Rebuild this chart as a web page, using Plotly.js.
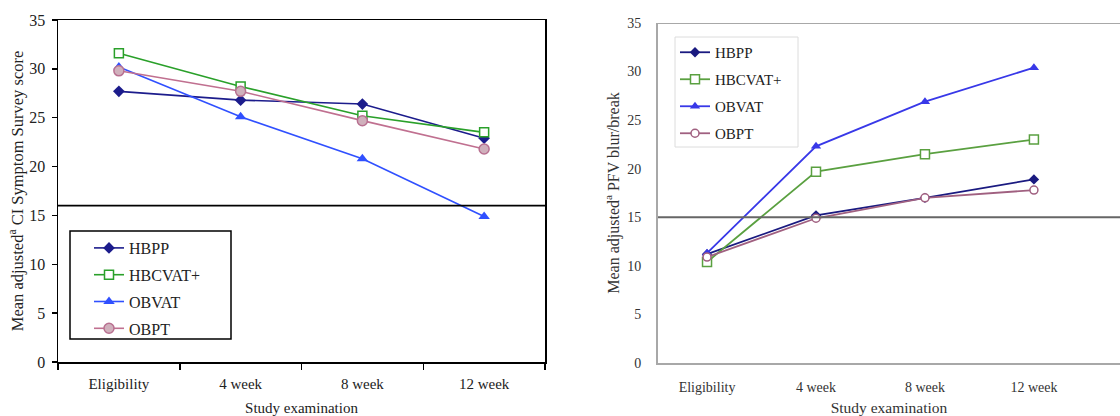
<!DOCTYPE html>
<html>
<head>
<meta charset="utf-8">
<script src="https://cdn.plot.ly/plotly-3.0.1.min.js"></script>
<style>html,body{margin:0;padding:0;background:#fff;}#chart{width:1120px;height:416px;}</style>
</head>
<body>
<div id="chart"></div>
<script>
// ---- data ----
const categories = ["Eligibility", "4 week", "8 week", "12 week"];
const seriesNames = ["HBPP", "HBCVAT+", "OBVAT", "OBPT"];
// Left panel: CI Symptom Survey score
const ciss_HBPP    = [27.7, 26.8, 26.4, 22.9];
const ciss_HBCVAT  = [31.6, 28.2, 25.2, 23.5];
const ciss_OBVAT   = [30.2, 25.1, 20.8, 14.9];
const ciss_OBPT    = [29.8, 27.7, 24.7, 21.8];
const cissCutoff   = 16;
// Right panel: PFV blur/break
const pfv_HBPP     = [11.2, 15.2, 17.0, 18.9];
const pfv_HBCVAT   = [10.4, 19.7, 21.5, 23.0];
const pfv_OBVAT    = [11.3, 22.3, 26.9, 30.4];
const pfv_OBPT     = [10.9, 14.9, 17.0, 17.8];
const pfvCutoff    = 15;
const yTicks = [0, 5, 10, 15, 20, 25, 30, 35];

const serif = "'Liberation Serif', 'Times New Roman', serif";

const leftStyles = [
  {line: "#1c1c8c", marker: {symbol: "diamond", size: 9, color: "#1c1c8c"}},
  {line: "#2aa02a", marker: {symbol: "square", size: 9, color: "#ffffff", line: {color: "#2aa02a", width: 1.5}}},
  {line: "#3050ff", marker: {symbol: "triangle-up", size: 10, color: "#3050ff"}},
  {line: "#c07090", marker: {symbol: "circle", size: 10, color: "#d0b0bc", line: {color: "#b87090", width: 1.5}}}
];
const rightStyles = [
  {line: "#1a1a80", marker: {symbol: "diamond", size: 8, color: "#1a1a80"}},
  {line: "#5aa040", marker: {symbol: "square", size: 9, color: "#ffffff", line: {color: "#5aa040", width: 1.5}}},
  {line: "#3838e8", marker: {symbol: "triangle-up", size: 9, color: "#3838e8"}},
  {line: "#a06080", marker: {symbol: "circle", size: 8, color: "#ffffff", line: {color: "#a06080", width: 1.5}}}
];

const leftData = [ciss_HBPP, ciss_HBCVAT, ciss_OBVAT, ciss_OBPT];
const rightData = [pfv_HBPP, pfv_HBCVAT, pfv_OBVAT, pfv_OBPT];

const traces = [];
leftData.forEach((vals, i) => {
  traces.push({
    type: "scatter", mode: "lines+markers", x: categories, y: vals,
    name: seriesNames[i], xaxis: "x", yaxis: "y", legend: "legend",
    legendgroup: "L" + i,
    line: {color: leftStyles[i].line, width: 1.6},
    marker: leftStyles[i].marker
  });
});
rightData.forEach((vals, i) => {
  traces.push({
    type: "scatter", mode: "lines+markers", x: categories, y: vals,
    name: seriesNames[i], xaxis: "x2", yaxis: "y2", legend: "legend2",
    legendgroup: "R" + i,
    line: {color: rightStyles[i].line, width: 1.8},
    marker: rightStyles[i].marker
  });
});

const W = 1120, H = 416;
const layout = {
  width: W, height: H,
  margin: {l: 0, r: 0, t: 0, b: 0},
  paper_bgcolor: "#ffffff", plot_bgcolor: "#ffffff",
  font: {family: serif, color: "#222", size: 14},
  showlegend: true,
  xaxis: {
    domain: [58 / W, 545 / W], anchor: "y",
    type: "category", range: [-0.5, 3.5],
    showline: true, linecolor: "#000", linewidth: 1.5, mirror: true,
    ticks: "outside", ticklen: 6, tickcolor: "#000", tickwidth: 1.5,
    tickson: "boundaries", showgrid: false, zeroline: false,
    ticklabelstandoff: 7,
    tickfont: {family: serif, size: 15, color: "#222"},
    title: {text: "Study examination", font: {family: serif, size: 15, color: "#222"}, standoff: 14}
  },
  yaxis: {
    domain: [(H - 362) / H, (H - 20) / H], anchor: "x",
    range: [0, 35], tickvals: yTicks,
    showline: true, linecolor: "#000", linewidth: 1.5, mirror: true,
    ticks: "outside", ticklen: 5, tickcolor: "#000", tickwidth: 1.5,
    showgrid: false, zeroline: false,
    ticklabelstandoff: 3,
    tickfont: {family: serif, size: 16, color: "#222"},
    title: {text: "Mean adjusted<sup>a</sup> CI Symptom Survey score", font: {family: serif, size: 16.5, color: "#222"}, standoff: 1}
  },
  xaxis2: {
    domain: [658 / W, 1], anchor: "y2",
    type: "category", range: [-0.45, 3.79],
    showline: true, linecolor: "#a8a8a8", linewidth: 2,
    ticks: "", showgrid: false, zeroline: false,
    ticklabelstandoff: 10,
    tickfont: {family: serif, size: 14, color: "#333"},
    title: {text: "Study examination", font: {family: serif, size: 15.5, color: "#333"}, standoff: 10}
  },
  yaxis2: {
    domain: [(H - 363) / H, (H - 23) / H], anchor: "x2",
    range: [0, 35], tickvals: yTicks,
    showline: true, linecolor: "#a8a8a8", linewidth: 2,
    ticks: "", showgrid: false, zeroline: false,
    ticklabelstandoff: 12,
    tickfont: {family: serif, size: 14, color: "#333"},
    title: {text: "Mean adjusted<sup>a</sup> PFV blur/break", font: {family: serif, size: 16, color: "#333"}, standoff: 4}
  },
  legend: {
    x: 89 / W, y: (H - 231) / H, xanchor: "left", yanchor: "top",
    bgcolor: "rgba(0,0,0,0)", borderwidth: 0,
    font: {family: serif, size: 16, color: "#222"},
    traceorder: "grouped", tracegroupgap: 3, itemwidth: 30
  },
  legend2: {
    x: 675 / W, y: (H - 36) / H, xanchor: "left", yanchor: "top",
    bgcolor: "rgba(0,0,0,0)", borderwidth: 0,
    font: {family: serif, size: 15, color: "#222"},
    traceorder: "grouped", tracegroupgap: 4.5, itemwidth: 30
  },
  shapes: [
    {type: "line", xref: "x domain", yref: "y", x0: 0, x1: 1, y0: cissCutoff, y1: cissCutoff,
     line: {color: "#000", width: 1.8}},
    {type: "line", xref: "x2 domain", yref: "y2", x0: 0, x1: 1, y0: pfvCutoff, y1: pfvCutoff,
     line: {color: "#666", width: 2}},
    {type: "line", xref: "x2 domain", yref: "y2", x0: 0, x1: 1, y0: 35, y1: 35,
     line: {color: "#a8a8a8", width: 2}},
    // legend frames
    {type: "rect", xref: "paper", yref: "paper", x0: 70 / W, x1: 231 / W, y0: (H - 339) / H, y1: (H - 231) / H,
     fillcolor: "#ffffff", line: {color: "#000", width: 1.5}, layer: "above"},
    {type: "rect", xref: "paper", yref: "paper", x0: 675 / W, x1: 798 / W, y0: (H - 147) / H, y1: (H - 37) / H,
     fillcolor: "#ffffff", line: {color: "#dcdcdc", width: 1}, layer: "above"}
  ]
};

Plotly.newPlot("chart", traces, layout, {displayModeBar: false, staticPlot: true});
</script>
</body>
</html>
